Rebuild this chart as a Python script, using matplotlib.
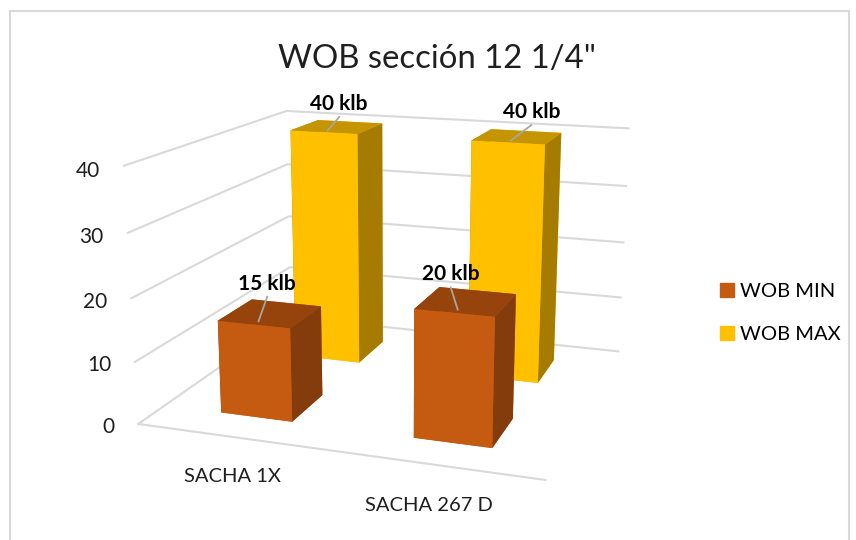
import matplotlib
matplotlib.use("Agg")
import matplotlib.pyplot as plt
from matplotlib.patches import Patch, Rectangle

plt.rcParams['font.family'] = ['Lato', 'DejaVu Sans']

categories = ["SACHA 1X", "SACHA 267 D"]
series_names = ["WOB MIN", "WOB MAX"]
wob_min = [15, 20]
wob_max = [40, 40]
z_ticks = [0, 10, 20, 30, 40]

# face order of bar3d: bottom, top, front, back, left, right
orange_faces = ["#C55A11", "#96440C", "#C55A11", "#C55A11", "#843C0C", "#843C0C"]
yellow_faces = ["#FFC000", "#C49500", "#FFC000", "#FFC000", "#A67C00", "#A67C00"]
grid_color = "#D9D9D9"
text_color = "#1F1F1F"

# hand placed labels: shift in x and z from the top of each bar, x of category names
yellow_shift = [(-0.06, 1.3), (0.03, 1.6)]
orange_shift = [(-0.1, 1.3), (-0.13, 0.7)]
category_x = [0.7, 1.6]

fig = plt.figure(figsize=(8.56, 5.40), dpi=100)
ax = fig.add_axes([-0.045, -0.01, 1, 1], projection="3d", computed_zorder=False)
ax.set_proj_type("persp", focal_length=0.45)
ax.view_init(elev=15, azim=-71)
ax.set_box_aspect((2.06, 1.9, 1.3), zoom=1.058)
ax.set_xlim(0, 2)
ax.set_ylim(0, 2)
ax.set_zlim(0, 40)
ax.set_axis_off()
ax.patch.set_alpha(0)

# walls and floor lines
for t in z_ticks:
    ax.plot([0, 0, 2], [0, 2, 2], [t, t, t], color=grid_color, lw=1.5, zorder=1)
ax.plot([0, 2], [0, 0], [0, 0], color=grid_color, lw=1.5, zorder=1)

bar_w = 0.38
bar_d = 0.42
z = 2
for j, (vals, faces, shift) in enumerate([(wob_max, yellow_faces, yellow_shift), (wob_min, orange_faces, orange_shift)]):
    depth = 1.5 if j == 0 else 0.5
    for i, v in enumerate(vals):
        ax.bar3d(i + 0.5 - bar_w / 2, depth - bar_d / 2, 0, bar_w, bar_d, v,
                 color=faces, shade=False, zorder=z)
        z += 1
        dx, dz = shift[i]
        ax.plot([i + 0.5, i + 0.5 + dx], [depth - 0.15, depth + 0.2], [v, v + dz - 0.5], color="#A6A6A6", lw=1.3, zorder=20)
        ax.text(i + 0.5 + dx, depth + 0.2, v + dz, f"{v} klb", fontsize=15, fontweight="bold",
                ha="center", va="bottom", color="black", zorder=21)

for t in z_ticks:
    ax.text(-0.13, 0, t - 1.0, str(t), fontsize=15, ha="right", va="center", color=text_color)
for x, c in zip(category_x, categories):
    ax.text(x, -0.44, 0, c, fontsize=14.5, ha="center", va="center", color=text_color)

fig.text(437 / 856, 1 - 59 / 540, 'WOB sección 12 1/4"', fontsize=23.7, ha="center", va="center", color=text_color)

handles = [Patch(color="#C55A11", label=series_names[0]), Patch(color="#FFC000", label=series_names[1])]
fig.legend(handles=handles, loc="center left", bbox_to_anchor=(720 / 856, 1 - 313 / 540), frameon=False,
           fontsize=14.5, handlelength=0.7, handleheight=0.7, labelspacing=1.3, handletextpad=0.3,
           borderpad=0, borderaxespad=0)

fig.add_artist(Rectangle((9.5 / 856, -0.02), 839 / 856, 1 - 11.5 / 540 + 0.02, transform=fig.transFigure,
                         fill=False, edgecolor="#D9D9D9", lw=1.5))

fig.savefig("out.png", dpi=100)
